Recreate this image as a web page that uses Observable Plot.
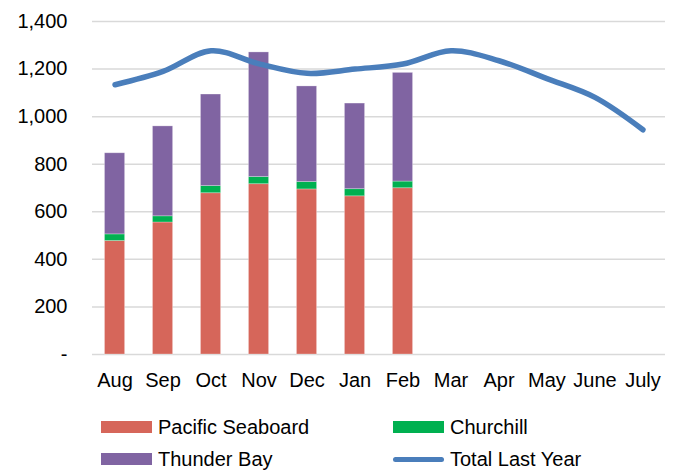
<!DOCTYPE html>
<html>
<head>
<meta charset="utf-8">
<script src="https://cdn.jsdelivr.net/npm/d3@7"></script>
<script src="https://cdn.jsdelivr.net/npm/@observablehq/plot@0.6"></script>
<style>
  html, body { margin: 0; padding: 0; background: #fff; }
  body { width: 675px; height: 471px; overflow: hidden; font-family: "Liberation Sans", Arial, sans-serif; }
  #chart svg { display: block; }
  #legend { position: relative; height: 71px; font-size: 20px; color: #000; }
  .item { position: absolute; display: flex; align-items: center; height: 18px; line-height: 18px; }
  .sw { width: 51px; height: 12px; margin-right: 6px; }
  .ln { width: 51px; height: 5px; border-radius: 3px; margin-right: 6px; }
</style>
</head>
<body>
<div id="chart"></div>
<div id="legend"></div>
<script>
const months = ["Aug","Sep","Oct","Nov","Dec","Jan","Feb","Mar","Apr","May","June","July"];
const barMonths = ["Aug","Sep","Oct","Nov","Dec","Jan","Feb"];
const pacific = [477, 555, 678, 716, 694, 665, 699];
const churchill = [28, 26, 30, 30, 31, 30, 28];
const thunderBay = [341, 378, 385, 524, 402, 360, 457];
const totalLastYear = [1134, 1190, 1277, 1222, 1182, 1200, 1221, 1277, 1235, 1160, 1081, 945];
const yTicks = [0, 200, 400, 600, 800, 1000, 1200, 1400];

const seriesNames = ["Pacific Seaboard", "Churchill", "Thunder Bay"];
const colors = {"Pacific Seaboard": "#D6665A", "Churchill": "#00B050", "Thunder Bay": "#8064A2"};
const lineColor = "#4A7EBB";

const bars = [];
barMonths.forEach((m, i) => {
  bars.push({month: m, series: "Pacific Seaboard", value: pacific[i]});
  bars.push({month: m, series: "Churchill", value: churchill[i]});
  bars.push({month: m, series: "Thunder Bay", value: thunderBay[i]});
});
const line = months.map((m, i) => ({month: m, value: totalLastYear[i]}));

const fmt = d => d === 0 ? "-" : d3.format(",")(d);

const chart = Plot.plot({
  width: 675,
  height: 400,
  marginLeft: 92,
  marginRight: 10,
  marginTop: 21,
  marginBottom: 46,
  style: {fontFamily: "'Liberation Sans', Arial, sans-serif", fontSize: "20px", color: "#000", background: "#fff"},
  x: {domain: months, paddingInner: 0.58, paddingOuter: 0.26, round: false, label: null, tickSize: 0, tickPadding: 18},
  y: {domain: [0, 1400], ticks: yTicks, tickFormat: fmt, label: null, tickSize: 0, tickPadding: 25},
  color: {domain: seriesNames, range: seriesNames.map(s => colors[s])},
  marks: [
    Plot.ruleY(yTicks, {stroke: "#d9d9d9", strokeWidth: 1.5}),
    Plot.barY(bars, {x: "month", y: "value", fill: "series", order: seriesNames, stroke: "#ffffff", strokeOpacity: 0.35, strokeWidth: 0.8}),
    Plot.line(line, {x: "month", y: "value", stroke: lineColor, strokeWidth: 5.5, curve: "catmull-rom", strokeLinecap: "round"})
  ]
});
document.getElementById("chart").appendChild(chart);

const legendItems = [
  {name: "Pacific Seaboard", type: "bar", color: colors["Pacific Seaboard"], left: 101, top: 18},
  {name: "Churchill", type: "bar", color: colors["Churchill"], left: 393, top: 18},
  {name: "Thunder Bay", type: "bar", color: colors["Thunder Bay"], left: 101, top: 50},
  {name: "Total Last Year", type: "line", color: lineColor, left: 393, top: 50}
];
const legend = d3.select("#legend");
legendItems.forEach(it => {
  const d = legend.append("div").attr("class", "item").style("left", it.left + "px").style("top", it.top + "px");
  d.append("div").attr("class", it.type === "bar" ? "sw" : "ln").style("background", it.color);
  d.append("span").text(it.name);
});
</script>
</body>
</html>
